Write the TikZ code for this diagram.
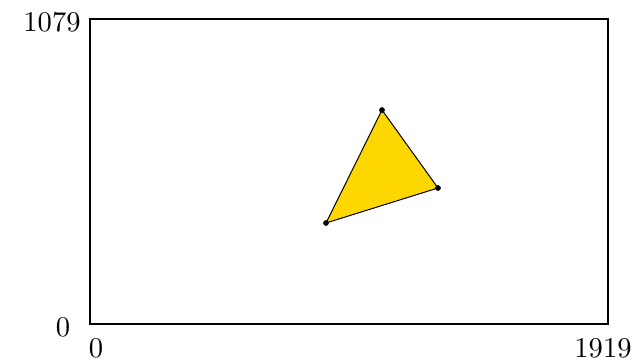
\documentclass[tikz,border=0pt]{standalone}
\begin{document}
\begin{tikzpicture}[x=0.35pt,y=-0.35pt,
  lbl/.style={inner sep=0pt, font=\fontsize{10}{12}\selectfont},
  vdot/.style={circle, fill=black, inner sep=0pt, minimum size=2pt}]
\useasboundingbox (0,0) rectangle (639,361);
\definecolor{gold}{RGB}{255,215,0}
\draw[line width=0.55pt] (90,19) rectangle (608,324);
\node[lbl] (ymax) at (52,22) {1079};
\node[lbl] (ymin) at (63,327) {0};
\node[lbl] (xmin) at (96,348) {0};
\node[lbl] (xmax) at (603,348) {1919};
\coordinate (a) at (382,110);
\coordinate (b) at (438,188);
\coordinate (c) at (326,223);
\draw[fill=gold, line width=0.35pt] (a) -- (b) -- (c) -- cycle;
\node[vdot] at (a) {};
\node[vdot] at (b) {};
\node[vdot] at (c) {};
\end{tikzpicture}
\end{document}
